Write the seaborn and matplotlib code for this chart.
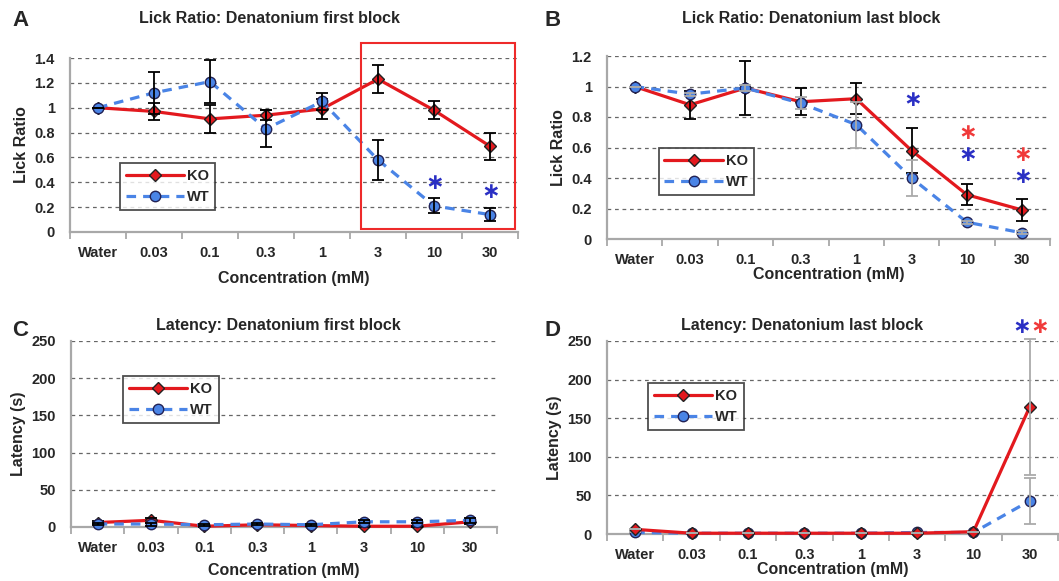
import seaborn as sns
import matplotlib.pyplot as plt
import pandas as pd
import numpy as np
from matplotlib.lines import Line2D
from matplotlib.patches import Rectangle

# data
conc = ['Water', '0.03', '0.1', '0.3', '1', '3', '10', '30']

# A: lick ratio, first block
ko_first = [1.0, 0.97, 0.91, 0.94, 0.99, 1.23, 0.98, 0.69]
ko_first_err = [0, 0.07, 0.11, 0.04, 0.08, 0.11, 0.07, 0.11]
wt_first = [1.0, 1.12, 1.21, 0.83, 1.05, 0.58, 0.21, 0.14]
wt_first_err = [0, 0.17, 0.17, 0.15, 0.07, 0.16, 0.06, 0.05]

# B: lick ratio, last block
ko_last = [1.0, 0.88, 0.99, 0.90, 0.92, 0.58, 0.29, 0.19]
ko_last_err = [0, 0.09, 0.18, 0.09, 0.10, 0.15, 0.07, 0.07]
wt_last = [1.0, 0.95, 0.99, 0.89, 0.75, 0.40, 0.11, 0.04]
wt_last_err = [0, 0.01, 0.02, 0.04, 0.15, 0.12, 0.01, 0.01]

# C: latency, first block
ko_lat_first = [6, 9, 1, 3, 2, 1, 1, 7]
ko_lat_first_err = [2, 3, 1, 1, 1, 1, 1, 3]
wt_lat_first = [4, 4, 3, 4, 3, 7, 7, 9]
wt_lat_first_err = [1, 2, 1, 1, 1, 2, 2, 3]

# D: latency, last block
ko_lat_last = [6, 1, 1, 1, 1, 1, 3, 165]
ko_lat_last_err = [0, 0, 0, 0, 0, 0, 0, 88]
wt_lat_last = [2, 1, 1, 1, 1, 2, 2, 43]
wt_lat_last_err = [0, 0, 0, 0, 0, 0, 0, 30]

KO_COL = '#e3191e'
WT_COL = '#4a84e6'
STAR_BLUE = '#2a2fc4'
STAR_RED = '#f03a3a'

sns.set_style('white')
plt.rcParams['font.family'] = ['Liberation Sans', 'DejaVu Sans']
plt.rcParams['font.weight'] = 'bold'
plt.rcParams['mathtext.fontset'] = 'dejavusans'

fig = plt.figure(figsize=(10.59, 5.81), dpi=100)


def make_ax(x0, x1, ytop, ybot):
    W, H = 1059, 581
    return fig.add_axes([x0 / W, 1 - ybot / H, (x1 - x0) / W, (ybot - ytop) / H])


def draw_panel(ax, ko, ko_err, wt, wt_err, ylim, yticks, title, tx, ty,
               ylabel, wt_err_col='black', ko_err_col='black', ko_on_top=False):
    n = len(conc)
    df = pd.DataFrame({'x': list(range(n)) * 2,
                       'y': ko + wt,
                       'geno': ['KO'] * n + ['WT'] * n})
    ko_z, wt_z = (4, 3) if ko_on_top else (3, 4)
    sub_ko = df[df.geno == 'KO']
    sub_wt = df[df.geno == 'WT']
    sns.lineplot(data=sub_ko, x='x', y='y', ax=ax, color=KO_COL, lw=2.3,
                 marker='D', markersize=6.5, markerfacecolor=KO_COL,
                 markeredgecolor='#222222', markeredgewidth=1, zorder=ko_z,
                 clip_on=False)
    sns.lineplot(data=sub_wt, x='x', y='y', ax=ax, color=WT_COL, lw=2.3,
                 dashes=(3, 2.2), marker='o', markersize=7.5,
                 markerfacecolor=WT_COL, markeredgecolor='#222255',
                 markeredgewidth=1, zorder=wt_z, clip_on=False)
    x = np.arange(n)
    ax.errorbar(x, ko, yerr=ko_err, fmt='none', ecolor=ko_err_col,
                elinewidth=1.3, capsize=4, capthick=1.3, zorder=ko_z + 0.5,
                clip_on=False)
    ax.errorbar(x, wt, yerr=wt_err, fmt='none', ecolor=wt_err_col,
                elinewidth=1.3, capsize=4, capthick=1.3, zorder=wt_z + 0.5,
                clip_on=False)

    ax.set_xlim(-0.5, n - 0.5)
    ax.set_ylim(*ylim)
    ax.set_yticks(yticks)
    ax.set_yticklabels(['{:g}'.format(v) for v in yticks], fontsize=10.5,
                       fontweight='bold')
    ax.set_xticks(np.arange(-0.5, n, 1.0))
    ax.set_xticklabels([])
    ax.set_xticks(x, minor=True)
    ax.set_xticklabels(conc, minor=True, fontsize=10.5, fontweight='bold')
    ax.tick_params(axis='x', which='major', direction='out', length=5,
                   width=1.3, color='#a8a8a8', bottom=True)
    ax.tick_params(axis='x', which='minor', length=0, pad=10)
    ax.tick_params(axis='y', length=0, pad=11)
    for yv in yticks[1:]:
        ax.axhline(yv, color='#666666', lw=0.9, ls=(0, (3, 3)), zorder=1)
    sns.despine(ax=ax)
    for sp in ['left', 'bottom']:
        ax.spines[sp].set_color('#a8a8a8')
        ax.spines[sp].set_linewidth(1.6)
    ax.set_xlabel('Concentration (mM)', fontsize=11.5, fontweight='bold')
    ax.set_ylabel(ylabel, fontsize=11.5, fontweight='bold')
    ax.set_title(title, fontsize=11.5, fontweight='bold', x=tx, y=ty)


def add_legend(ax, x0, y0):
    handles = [
        Line2D([], [], color=KO_COL, lw=2.3, marker='D', markersize=6.5,
               markerfacecolor=KO_COL, markeredgecolor='#222222'),
        Line2D([], [], color=WT_COL, lw=2.3, dashes=(3, 2.2), marker='o',
               markersize=7.5, markerfacecolor=WT_COL,
               markeredgecolor='#222255'),
    ]
    leg = ax.legend(handles, ['KO', 'WT'], loc='lower left',
                    bbox_to_anchor=(x0, y0), frameon=True, fancybox=False,
                    edgecolor='#222222', handlelength=4, borderpad=0.4,
                    labelspacing=0.5, handletextpad=0.2,
                    prop={'weight': 'bold', 'size': 10.5})
    leg.get_frame().set_linewidth(1.3)
    leg.set_zorder(10)


def star(ax, xv, yv, col):
    ax.text(xv, yv, r'$\ast$', color=col, fontsize=16, fontweight='normal',
            ha='center', va='center', clip_on=False)


# A
axA = make_ax(70, 518, 58, 232)
draw_panel(axA, ko_first, ko_first_err, wt_first, wt_first_err, (0, 1.4),
           [0, 0.2, 0.4, 0.6, 0.8, 1.0, 1.2, 1.4],
           'Lick Ratio: Denatonium first block', 0.446, 1.155, 'Lick Ratio')
axA.xaxis.labelpad = 8
add_legend(axA, 0.095, 0.085)
axA.add_patch(Rectangle((4.7, 0.024), 2.75, 1.5, fill=False,
                        edgecolor='#ee2a2a', lw=1.5, clip_on=False, zorder=6))
star(axA, 6, 0.39, STAR_BLUE)
star(axA, 7, 0.32, STAR_BLUE)

# B
axB = make_ax(607, 1050, 56, 239)
draw_panel(axB, ko_last, ko_last_err, wt_last, wt_last_err, (0, 1.2),
           [0, 0.2, 0.4, 0.6, 0.8, 1.0, 1.2],
           'Lick Ratio: Denatonium last block', 0.46, 1.137, 'Lick Ratio',
           wt_err_col='#aaaaaa')
axB.xaxis.labelpad = 0
add_legend(axB, 0.1, 0.2)
for xi, yi, col in [(5, 0.91, STAR_BLUE), (6, 0.69, STAR_RED),
                    (6, 0.545, STAR_BLUE), (7, 0.55, STAR_RED),
                    (7, 0.405, STAR_BLUE)]:
    star(axB, xi, yi, col)

# C
axC = make_ax(71, 497, 341, 527)
draw_panel(axC, ko_lat_first, ko_lat_first_err, wt_lat_first,
           wt_lat_first_err, (0, 250), [0, 50, 100, 150, 200, 250],
           'Latency: Denatonium first block', 0.486, 1.017, 'Latency (s)')
axC.xaxis.labelpad = 6
add_legend(axC, 0.105, 0.52)

# D
axD = make_ax(607, 1058, 341, 534)
draw_panel(axD, ko_lat_last, ko_lat_last_err, wt_lat_last, wt_lat_last_err,
           (0, 250), [0, 50, 100, 150, 200, 250],
           'Latency: Denatonium last block', 0.432, 1.015, 'Latency (s)',
           wt_err_col='#aaaaaa', ko_err_col='#aaaaaa', ko_on_top=True)
axD.xaxis.labelpad = 0
add_legend(axD, 0.075, 0.5)
star(axD, 6.84, 268, STAR_BLUE)
star(axD, 7.16, 268, STAR_RED)

# panel letters
for lbl, px, py in [('A', 12, 20), ('B', 545, 20), ('C', 12, 330),
                    ('D', 545, 330)]:
    fig.text(px / 1059, 1 - py / 581, lbl, fontsize=16, fontweight='bold',
             va='center', ha='left')

plt.savefig('out.png', dpi=100)
